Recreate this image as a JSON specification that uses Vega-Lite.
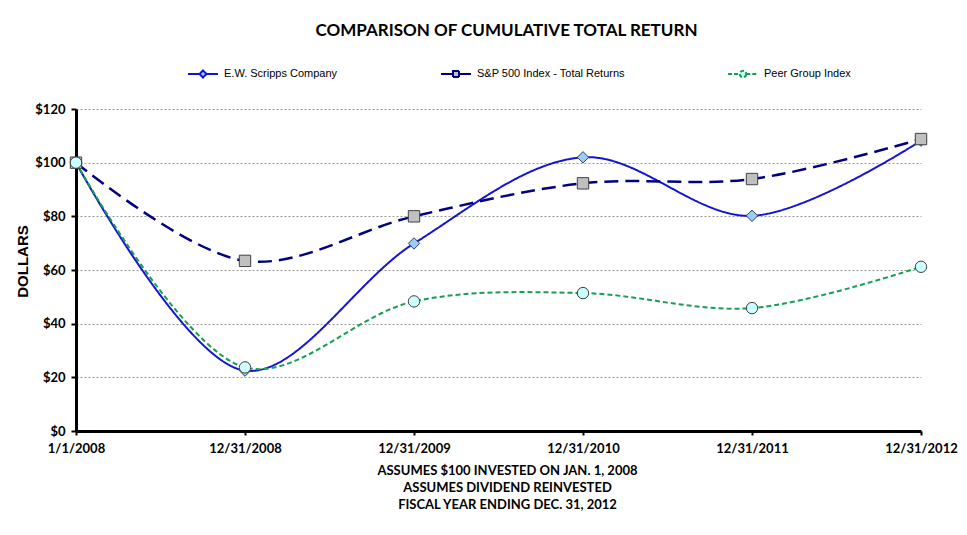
{
  "$schema": "https://vega.github.io/schema/vega-lite/v6.json",
  "width": 845,
  "height": 322,
  "autosize": {"type": "none"},
  "padding": {"left": 76, "top": 109, "right": 46, "bottom": 104},
  "background": "white",
  "title": {
    "text": "COMPARISON OF CUMULATIVE TOTAL RETURN",
    "font": "Lato",
    "fontSize": 17,
    "fontWeight": "bold",
    "color": "black",
    "anchor": "middle",
    "dx": 8,
    "offset": 28
  },
  "data": {
    "values": [
      {"date": "1/1/2008", "series": "E.W. Scripps Company", "value": 100},
      {"date": "12/31/2008", "series": "E.W. Scripps Company", "value": 22.5},
      {"date": "12/31/2009", "series": "E.W. Scripps Company", "value": 69.9},
      {"date": "12/31/2010", "series": "E.W. Scripps Company", "value": 102.0},
      {"date": "12/31/2011", "series": "E.W. Scripps Company", "value": 80.2},
      {"date": "12/31/2012", "series": "E.W. Scripps Company", "value": 108.2},
      {"date": "1/1/2008", "series": "S&P 500 Index - Total Returns", "value": 100},
      {"date": "12/31/2008", "series": "S&P 500 Index - Total Returns", "value": 63.4},
      {"date": "12/31/2009", "series": "S&P 500 Index - Total Returns", "value": 80.0},
      {"date": "12/31/2010", "series": "S&P 500 Index - Total Returns", "value": 92.3},
      {"date": "12/31/2011", "series": "S&P 500 Index - Total Returns", "value": 93.9},
      {"date": "12/31/2012", "series": "S&P 500 Index - Total Returns", "value": 108.8},
      {"date": "1/1/2008", "series": "Peer Group Index", "value": 100},
      {"date": "12/31/2008", "series": "Peer Group Index", "value": 23.7},
      {"date": "12/31/2009", "series": "Peer Group Index", "value": 48.3},
      {"date": "12/31/2010", "series": "Peer Group Index", "value": 51.4},
      {"date": "12/31/2011", "series": "Peer Group Index", "value": 45.8},
      {"date": "12/31/2012", "series": "Peer Group Index", "value": 61.2}
    ]
  },
  "encoding": {
    "x": {
      "field": "date",
      "type": "ordinal",
      "sort": ["1/1/2008", "12/31/2008", "12/31/2009", "12/31/2010", "12/31/2011", "12/31/2012"],
      "scale": {"type": "point", "padding": 0},
      "axis": {
        "title": ["ASSUMES $100  INVESTED ON JAN. 1, 2008", "ASSUMES DIVIDEND REINVESTED", "FISCAL YEAR ENDING DEC. 31, 2012"],
        "titleFont": "Lato",
        "titleFontSize": 13,
        "titleFontWeight": "bold",
        "titleColor": "black",
        "titleLineHeight": 17,
        "titlePadding": 9,
        "titleX": 431,
        "labelAngle": 0,
        "labelFont": "Lato",
        "labelFontSize": 13,
        "labelFontWeight": "bold",
        "labelColor": "black",
        "labelPadding": 7,
        "tickSize": 4,
        "tickColor": "black",
        "tickWidth": 2,
        "domainColor": "black",
        "domainWidth": 3,
        "grid": false
      }
    },
    "y": {
      "field": "value",
      "type": "quantitative",
      "scale": {"domain": [0, 120], "nice": false},
      "axis": {
        "values": [0, 20, 40, 60, 80, 100, 120],
        "format": "$.0f",
        "title": "DOLLARS",
        "titleFont": "Liberation Sans",
        "titleFontSize": 15,
        "titleFontWeight": "bold",
        "titleColor": "black",
        "titlePadding": 4,
        "titleY": 152,
        "labelFont": "Lato",
        "labelFontSize": 13,
        "labelFontWeight": "bold",
        "labelColor": "black",
        "labelPadding": 6,
        "tickSize": 5,
        "tickColor": "black",
        "tickWidth": 2,
        "domainColor": "black",
        "domainWidth": 3,
        "grid": true,
        "gridColor": "#999999",
        "gridDash": [2, 2],
        "gridWidth": 1
      }
    }
  },
  "layer": [
    {
      "mark": {"type": "line", "interpolate": "catmull-rom"},
      "encoding": {
        "color": {
          "field": "series",
          "type": "nominal",
          "scale": {
            "domain": ["E.W. Scripps Company", "S&P 500 Index - Total Returns", "Peer Group Index"],
            "range": ["#1414d2", "#000080", "#14a050"]
          },
          "legend": {
            "title": null,
            "orient": "none",
            "legendX": 121,
            "legendY": -41,
            "direction": "horizontal",
            "columns": 3,
            "gridAlign": "none",
            "columnPadding": 99,
            "symbolSize": 100,
            "labelOffset": 15,
            "labelFont": "Liberation Sans",
            "labelFontSize": 11,
            "labelColor": "black",
            "padding": 0,
            "encode": {
              "symbols": {
                "update": {
                  "shape": {"signal": "datum.value === 'E.W. Scripps Company' ? 'M-3,0L-0.7,0M0.7,0L3,0M0,-0.7L0.7,0L0,0.7L-0.7,0Z' : (datum.value === 'Peer Group Index' ? 'M-3,0L-0.65,0M0.65,0L3,0M0.65,0A0.65,0.65,0,1,1,-0.65,0A0.65,0.65,0,1,1,0.65,0Z' : 'M-3,0L-0.6,0M0.6,0L3,0M-0.6,-0.6L0.6,-0.6L0.6,0.6L-0.6,0.6Z')"},
                  "fill": {"signal": "datum.value === 'E.W. Scripps Company' ? '#99ccff' : (datum.value === 'Peer Group Index' ? '#ccffff' : '#c0c0c0')"},
                  "strokeDash": {"signal": "datum.value === 'Peer Group Index' ? [4, 2] : [1, 0]"},
                  "strokeWidth": {"value": 2},
                  "size": {"value": 100},
                  "opacity": {"value": 1}
                }
              }
            }
          }
        },
        "strokeDash": {
          "condition": [
            {"test": "datum.series === 'S&P 500 Index - Total Returns'", "value": [14, 7]},
            {"test": "datum.series === 'Peer Group Index'", "value": [5, 3]}
          ],
          "value": [1, 0]
        },
        "strokeWidth": {
          "condition": {"test": "datum.series === 'S&P 500 Index - Total Returns'", "value": 2.5},
          "value": 2
        }
      }
    },
    {
      "mark": {"type": "point", "filled": true, "stroke": "#404040", "strokeWidth": 1, "size": 130, "opacity": 1},
      "encoding": {
        "shape": {
          "condition": [
            {"test": "datum.series === 'E.W. Scripps Company'", "value": "diamond"},
            {"test": "datum.series === 'S&P 500 Index - Total Returns'", "value": "square"}
          ],
          "value": "circle"
        },
        "fill": {
          "condition": [
            {"test": "datum.series === 'E.W. Scripps Company'", "value": "#99ccff"},
            {"test": "datum.series === 'S&P 500 Index - Total Returns'", "value": "#c0c0c0"}
          ],
          "value": "#ccffff"
        }
      }
    }
  ],
  "config": {
    "view": {"stroke": null}
  }
}
